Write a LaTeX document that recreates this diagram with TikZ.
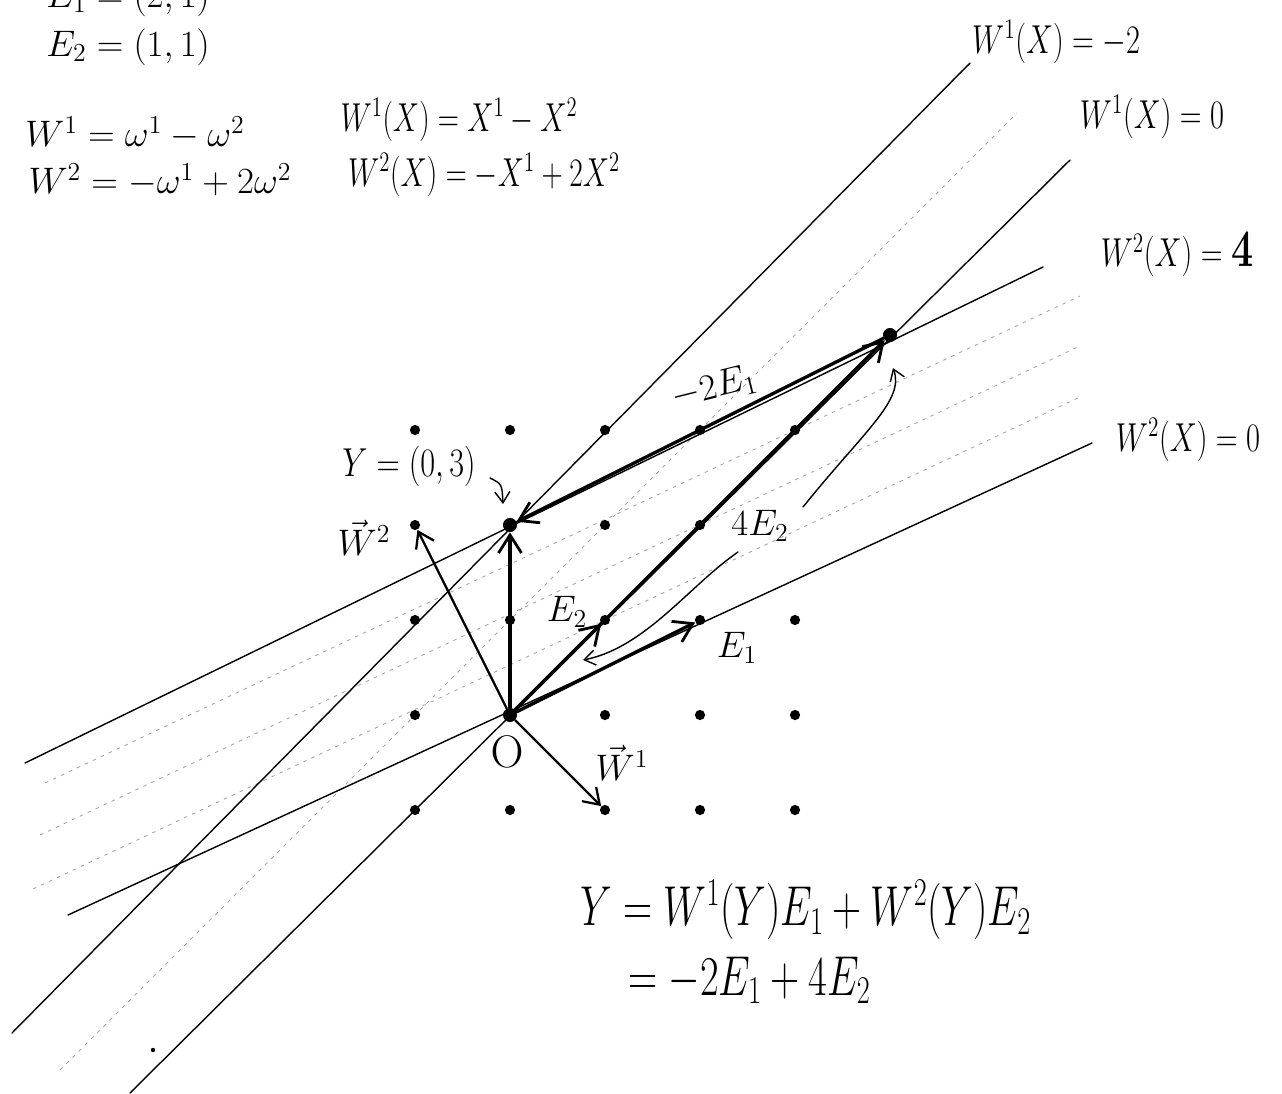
\RequirePackage{fix-cm}
\documentclass[tikz,border=0pt]{standalone}
\usepackage{amsmath}
\usepackage{graphicx}
\usetikzlibrary{arrows.meta}
\newcommand{\sqz}[2][0.75]{\scalebox{#1}[1]{$#2$}}
\begin{document}
\begin{tikzpicture}[x=0.02cm, y=-0.02cm,
  gdot/.style={circle, fill=black, inner sep=0pt, minimum size=5.8pt},
  bdot/.style={circle, fill=black, inner sep=0pt, minimum size=8pt},
  tdot/.style={circle, fill=black, inner sep=0pt, minimum size=2.5pt},
  level/.style={line width=0.8pt, line cap=round},
  faint/.style={line width=0.5pt, black!35, dash pattern=on 2pt off 3pt},
  vec/.style={line width=1.9pt, line cap=round, -{Straight Barb[length=3.6mm,width=4.6mm,line width=1.6pt]}},
  midvec/.style={line width=1.3pt, line cap=round, -{Straight Barb[length=3mm,width=4mm,line width=1.3pt]}},
  note/.style={line width=0.8pt, line cap=round, -{Straight Barb[length=2.2mm,width=3mm,line width=0.8pt]}},
  lbl/.style={inner sep=0pt, font=\fontsize{21}{25}\selectfont},
  lvl/.style={inner sep=0pt, font=\fontsize{23}{27}\selectfont},
  big/.style={inner sep=0pt, font=\fontsize{32}{36}\selectfont},
]
\useasboundingbox (0,0) rectangle (1282,1093);
\clip (0,0) rectangle (1282,1093);

% ---- level-line end points ----
\coordinate (a0s) at (130,1093); \coordinate (a0e) at (1070,160);   % W1 = 0
\coordinate (am2s) at (12,1033); \coordinate (am2e) at (970,63);    % W1 = -2
\coordinate (am1s) at (60,1070); \coordinate (am1e) at (1017,113);  % W1 = -1
\coordinate (b0s) at (68,915);   \coordinate (b0e) at (1092,443);   % W2 = 0
\coordinate (b4s) at (25,763);   \coordinate (b4e) at (1043,267);   % W2 = 4
\coordinate (b1s) at (33,889);   \coordinate (b1e) at (1080,397);   % W2 = 1
\coordinate (b2s) at (40,835);   \coordinate (b2e) at (1080,346);   % W2 = 2
\coordinate (b3s) at (45,783);   \coordinate (b3e) at (1080,296);   % W2 = 3

% faint intermediate level lines
\draw[faint] (am1s) -- (am1e);
\draw[faint] (b1s) -- (b1e);
\draw[faint] (b2s) -- (b2e);
\draw[faint] (b3s) -- (b3e);

% solid level lines
\draw[level] (a0s) -- (a0e);
\draw[level] (am2s) -- (am2e);
\draw[level] (b0s) -- (b0e);
\draw[level] (b4s) -- (b4e);

% ---- lattice points ----
\node[bdot] (O)  at (510,715) {};
\node[bdot] (Y)  at (510,525) {};
\node[gdot] (p01) at (510,620) {};
\node[gdot] (E2) at (605,620) {};
\node[gdot] (E1) at (700,620) {};
\node[gdot] (p22) at (700,525) {};
\node[gdot] (p33) at (795,430) {};
\node[gdot] (p23) at (700,430) {};
\node[bdot] (T)  at (890,335) {};
\node[gdot] (w2t) at (415,525) {};
\node[gdot] (w1t) at (605,810) {};
\foreach \n/\x/\y in {q1/415/430, q2/510/430, q3/605/430, q4/605/525,
  q5/415/620, q6/795/620, q7/415/715, q8/605/715, q9/700/715, q10/795/715,
  q11/415/810, q12/510/810, q13/700/810, q14/795/810}
  \node[gdot] (\n) at (\x,\y) {};
\node[tdot] (stray) at (153,1050) {};

% ---- vectors ----
\draw[vec] (O) -- (T);
\draw[vec] (O) -- (E2);
\draw[vec] (O) -- (E1);
\draw[vec] (T) -- (Y);
\draw[vec] (O) -- (Y);
\draw[midvec] (O) -- (w2t);
\draw[midvec] (O) -- (w1t);

% ---- annotation arrows ----
\coordinate (c1s) at (803,507); \coordinate (c1e) at (893,368);
\coordinate (c2s) at (738,552); \coordinate (c2e) at (583,660);
\coordinate (c3s) at (490,478); \coordinate (c3e) at (503,504);
\draw[note] (c1s) .. controls (865,430) and (905,400) .. (c1e);
\draw[note] (c2s) .. controls (690,585) and (645,648) .. (c2e);
\draw[note] (c3s) .. controls (502,484) .. (c3e);

% ---- texts ----
\node[lbl] (e1def) at (128,-2) {$E_1 = (2,1)$};
\node[lbl] (e2def) at (128,47) {$E_2 = (1,1)$};
\node[lbl] (w1def) at (135,133) {$W^1 = \omega^1 - \omega^2$};
\node[lbl] (w2def) at (160,180) {$W^2 = -\omega^1 + 2\omega^2$};
\node[lvl] (w1x) at (459,120) {\sqz[0.73]{W^1(X) = X^1 - X^2}};
\node[lvl] (w2x) at (484,175) {\sqz[0.73]{W^2(X) = -X^1 + 2X^2}};

\node[lvl] (l1) at (1056,42) {\sqz{W^1(X) = -2}};
\node[lvl] (l2) at (1152,117) {\sqz{W^1(X) = 0}};
\node[lvl] (l3) at (1177,255) {\sqz{W^2(X) = \scalebox{1.3}{$\boldsymbol{4}$}}};
\node[lvl] (l4) at (1188,440) {\sqz{W^2(X) = 0}};

\node[lvl] (ylab) at (409,466) {\sqz[0.8]{Y = (0,3)}};
\node[lbl, rotate=14] (m2e1) at (714,388) {$-2E_1$};
\node[lbl] (l4e2) at (760,526) {$4E_2$};
\node[lbl] (le1) at (737,648) {$E_1$};
\node[lbl] (le2) at (567,612) {$E_2$};
\node[inner sep=0pt, font=\fontsize{26}{30}\selectfont] (lO) at (507,752) {$\mathrm{O}$};
\node[lbl] (lw1) at (622,763) {$\vec{W}^1$};
\node[lbl] (lw2) at (364,538) {$\vec{W}^2$};

\node[big, anchor=west] (eq1) at (580,910) {\sqz[0.72]{Y = W^1(Y)E_1 + W^2(Y)E_2}};
\node[big, anchor=west] (eq2) at (628,980) {\sqz[0.72]{= -2E_1 + 4E_2}};
\end{tikzpicture}
\end{document}
